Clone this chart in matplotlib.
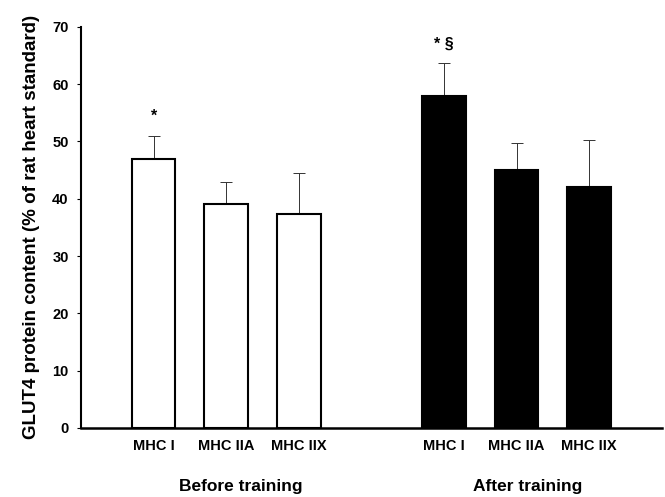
import numpy as np
import matplotlib
matplotlib.use("Agg")
import matplotlib.pyplot as plt

plt.rcParams['font.family'] = ['Liberation Sans', 'DejaVu Sans']

# data
categories = ["MHC I", "MHC IIA", "MHC IIX"]
before_mean = [47.0, 39.1, 37.4]
before_err = [4.0, 3.9, 7.1]
after_mean = [58.0, 45.0, 42.1]
after_err = [5.7, 4.8, 8.2]
before_marks = ["*", "", ""]
after_marks = ["* §", "", ""]
yticks = [0, 10, 20, 30, 40, 50, 60, 70]

x_before = np.arange(3)
x_after = np.arange(3) + 4
width = 0.6

fig = plt.figure(figsize=(6.65, 4.97), dpi=100)
ax = fig.add_axes([0.122, 0.139, 0.873, 0.807])

ax.bar(x_before, before_mean, width, color='white', edgecolor='black', linewidth=1.5, zorder=2)
ax.errorbar(x_before, before_mean, yerr=[np.zeros(3), before_err], fmt='none',
            ecolor='#333333', elinewidth=0.7, capsize=4, capthick=0.7, zorder=1)
ax.bar(x_after, after_mean, width, color='black', edgecolor='black', linewidth=1.5, zorder=2)
ax.errorbar(x_after, after_mean, yerr=[np.zeros(3), after_err], fmt='none',
            ecolor='#333333', elinewidth=0.7, capsize=4, capthick=0.7, zorder=1)

for xs, m, e, marks in [(x_before, before_mean, before_err, before_marks),
                        (x_after, after_mean, after_err, after_marks)]:
    for xi, mi, ei, mk in zip(xs, m, e, marks):
        if mk:
            ax.text(xi, mi + ei + 2.0, mk, ha='center', va='bottom',
                    fontsize=11.5, fontweight='bold')

ax.set_xlim(-1.0, 7.0)
ax.set_ylim(0, 70)
ax.set_yticks(yticks)
ax.set_xticks(list(x_before) + list(x_after))
ax.set_xticklabels(categories + categories, fontsize=10.5, fontweight='bold')
ax.tick_params(axis='x', length=0, pad=8)
ax.tick_params(axis='y', length=3, width=0.8, direction='out', labelsize=10.5, pad=6)
for lbl in ax.get_yticklabels():
    lbl.set_fontweight('bold')

ax.spines['top'].set_visible(False)
ax.spines['right'].set_visible(False)
ax.spines['left'].set_linewidth(1.5)
ax.spines['bottom'].set_linewidth(1.8)

ax.set_ylabel("GLUT4 protein content (% of rat heart standard)", fontsize=13.5,
              fontweight='bold', labelpad=9)

ax.text(1.2, -10.3, "Before training", ha='center', va='center', fontsize=12.5,
        fontweight='bold', clip_on=False)
ax.text(5.15, -10.3, "After training", ha='center', va='center', fontsize=12.5,
        fontweight='bold', clip_on=False)

fig.savefig("out.png", dpi=100)
